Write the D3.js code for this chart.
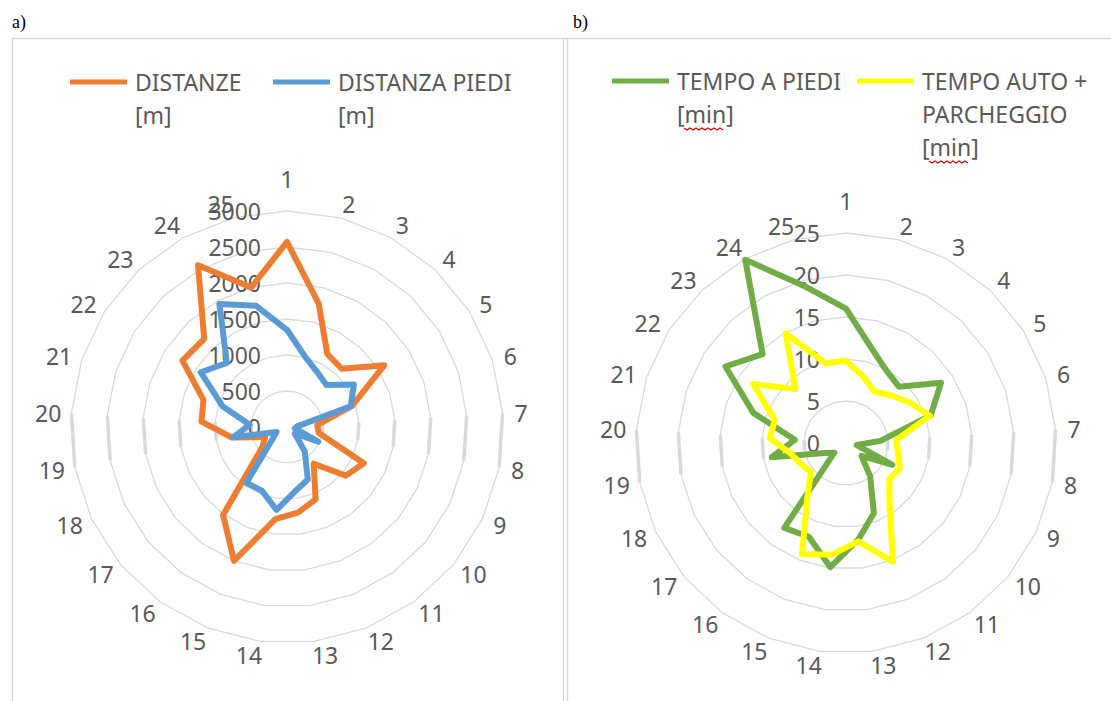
<!DOCTYPE html>
<html>
<head>
<meta charset="utf-8">
<script src="https://cdn.jsdelivr.net/npm/d3@7"></script>
<style>
  body { margin: 0; background: #fff; }
  text { font-family: "Noto Sans", Lato, sans-serif; fill: #595959; }
</style>
</head>
<body>
<script>

var w = 1111;
var h = 701;

// categories (25 spokes)
const categories = d3.range(1, 26).map(String);

// a) distances [m]
const distanze      = [2570,1770,1160,1110,1600,950,420,450,1180,1060,630,1080,1200,1290,2000,1510,450,335,780,1190,1220,1720,1680,2565,2000];
const distanzaPiedi = [1350,1010,870,800,1100,930,140,110,480,140,420,785,900,1160,950,960,260,160,760,520,945,1420,1220,1950,1740];
const ticksA = [0,500,1000,1500,2000,2500,3000];

// b) times [min]
const tempoPiedi = [16.0,11.8,9.9,9.2,13.4,10.6,4.1,1.3,6.1,2.4,4.9,9.0,11.6,14.9,12.0,12.5,1.8,2.8,9.0,6.1,11.6,17.0,14.5,24.9,19.2];
const tempoAuto  = [9.8,8.2,7.0,7.8,9.0,10.5,6.0,6.3,7.1,6.7,8.8,15.2,11.8,13.4,14.2,7.8,5.4,5.9,6.7,9.1,8.9,13.1,8.8,14.9,9.8];
const ticksB = [0,5,10,15,20,25];

const svg = d3.select("body").append("svg")
    .attr("width", w)
    .attr("height", h);

// panel frames
const grid = "#d9d9d9";
svg.append("line").attr("x1", 12).attr("x2", w).attr("y1", 38.5).attr("y2", 38.5)
    .attr("stroke", grid).attr("stroke-width", 1.5);
[12.5, 563.5, 567.5].forEach(x => {
    svg.append("line").attr("x1", x).attr("x2", x).attr("y1", 38).attr("y2", h)
        .attr("stroke", grid).attr("stroke-width", 1.5);
});

svg.append("text").attr("x", 12).attr("y", 28).text("a)")
    .style("font-family", "'Liberation Serif', serif").style("font-size", "18px").style("fill", "#000");
svg.append("text").attr("x", 573).attr("y", 28).text("b)")
    .style("font-family", "'Liberation Serif', serif").style("font-size", "18px").style("fill", "#000");

function radar(cfg) {
    const g = svg.append("g").attr("transform", "translate(" + cfg.cx + "," + cfg.cy + ")");
    const n = categories.length;

    const r = d3.scaleLinear().domain([0, d3.max(cfg.ticks)]).range([0, cfg.R]);
    const angle = d3.scaleLinear().domain([0, n]).range([0, 2 * Math.PI]);
    const pt = (i, v) => [Math.sin(angle(i)) * r(v), -Math.cos(angle(i)) * r(v)];

    // polygon gridlines
    cfg.ticks.slice(1).forEach(t => {
        const pts = categories.map((c, i) => pt(i, t));
        g.append("path")
            .attr("d", d3.line()(pts) + "Z")
            .attr("fill", "none")
            .attr("stroke", grid)
            .attr("stroke-width", 1.3);
        // the near-vertical edges look heavier in the original
        [[6, 7], [18, 19]].forEach(e => {
            g.append("line")
                .attr("x1", pts[e[0]][0]).attr("y1", pts[e[0]][1])
                .attr("x2", pts[e[1]][0]).attr("y2", pts[e[1]][1])
                .attr("stroke", grid).attr("stroke-width", 3.5);
        });
    });

    // value axis labels
    g.selectAll(".tick").data(cfg.ticks).enter().append("text")
        .attr("class", "tick")
        .attr("x", -26)
        .attr("y", d => -r(d))
        .attr("text-anchor", "end")
        .attr("dominant-baseline", "central")
        .style("font-size", "23px")
        .text(d => d);

    // category labels, pushed out a bit sideways like Excel does
    g.selectAll(".cat").data(categories).enter().append("text")
        .attr("class", "cat")
        .attr("text-anchor", "middle")
        .attr("dominant-baseline", "central")
        .style("font-size", "23px")
        .text(d => d)
        .each(function(d, i) {
            const a = angle(i);
            const rr = cfg.R + (i == 0 ? 32 : 14);
            const ux = Math.sin(a);
            const bw = this.getComputedTextLength();
            const side = Math.abs(ux) > 0.05 ? Math.sign(ux) * bw * 0.35 : 0;
            d3.select(this)
                .attr("x", ux * rr + side)
                .attr("y", -Math.cos(a) * rr);
        });

    const line = d3.lineRadial()
        .angle((d, i) => angle(i))
        .radius(d => r(d))
        .curve(d3.curveLinearClosed);

    cfg.series.forEach(s => {
        g.append("path")
            .attr("d", line(s.values))
            .attr("fill", "none")
            .attr("stroke", s.color)
            .attr("stroke-width", 6)
            .attr("stroke-linejoin", "round");
    });
}

function legendItem(x, y, color, lines) {
    svg.append("line")
        .attr("x1", x).attr("x2", x + 57)
        .attr("y1", y).attr("y2", y)
        .attr("stroke", color).attr("stroke-width", 5);
    lines.forEach((t, k) => {
        const txt = svg.append("text")
            .attr("x", x + 65)
            .attr("y", y + k * 33)
            .attr("dominant-baseline", "central")
            .style("font-size", "23px")
            .text(t);
        // spell-check squiggle under "min"
        if (t == "[min]") {
            const x0 = x + 72, x1 = x + 112, yy = y + k * 33 + 14;
            const zig = d3.range(x0, x1, 3).map((xx, j) => [xx, yy + (j % 2 ? 2 : 0)]);
            svg.append("path").attr("d", d3.line()(zig))
                .attr("fill", "none").attr("stroke", "#e00000").attr("stroke-width", 1.2);
        }
    });
}

radar({
    cx: 287, cy: 427, R: 216, ticks: ticksA,
    series: [
        {values: distanze, color: "#ED7D31"},
        {values: distanzaPiedi, color: "#5B9BD5"}
    ]
});

radar({
    cx: 846, cy: 443, R: 210, ticks: ticksB,
    series: [
        {values: tempoPiedi, color: "#70AD47"},
        {values: tempoAuto, color: "#FFFF00"}
    ]
});

legendItem(70, 82, "#ED7D31", ["DISTANZE", "[m]"]);
legendItem(273, 82, "#5B9BD5", ["DISTANZA PIEDI", "[m]"]);
legendItem(612, 81, "#70AD47", ["TEMPO A PIEDI", "[min]"]);
legendItem(857, 81, "#FFFF00", ["TEMPO AUTO +", "PARCHEGGIO", "[min]"]);

</script>
</body>
</html>
